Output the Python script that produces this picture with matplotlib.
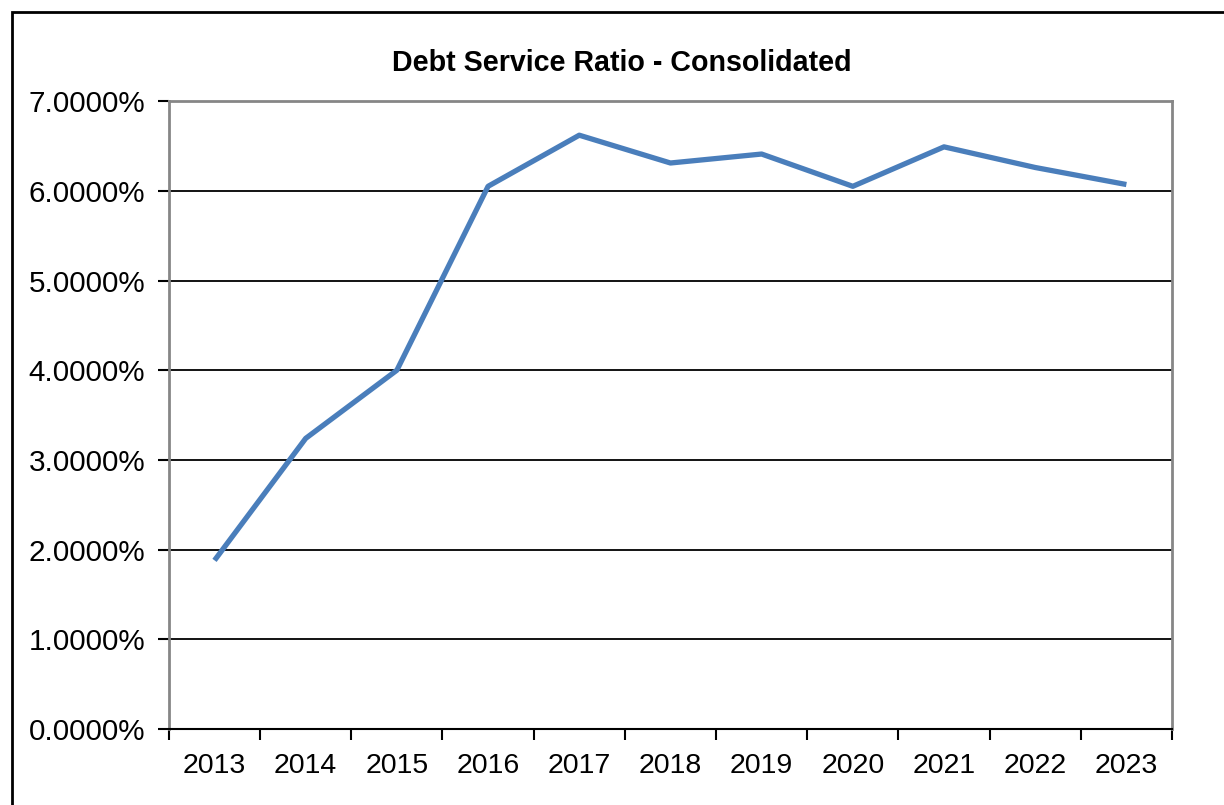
import matplotlib.pyplot as plt
from matplotlib.patches import Rectangle
from matplotlib.ticker import FuncFormatter, MultipleLocator

plt.rcParams["font.family"] = ["Liberation Sans", "DejaVu Sans"]

years = ["2013", "2014", "2015", "2016", "2017", "2018", "2019", "2020", "2021", "2022", "2023"]
ratio = [1.88, 3.24, 4.00, 6.05, 6.62, 6.31, 6.41, 6.05, 6.49, 6.26, 6.07]

fig = plt.figure(figsize=(12.24, 8.05), dpi=100)
ax = fig.add_axes([0.138, 0.0944, 0.8195, 0.78])

# outer chart border (only top and left visible in the crop)
fig.patches.append(Rectangle((12 / 1224, -0.1), 1.2, (805 - 12) / 805 + 0.1,
                             transform=fig.transFigure, fill=False,
                             edgecolor="black", linewidth=2))

x = list(range(len(years)))
ax.plot(x, ratio, color="#4A7EBB", linewidth=3.8, solid_capstyle="butt", zorder=3)

ax.set_xlim(-0.5, len(years) - 0.5)
ax.set_ylim(0, 7)
ax.yaxis.set_major_locator(MultipleLocator(1))
ax.yaxis.set_major_formatter(FuncFormatter(lambda v, p: f"{v:.4f}%"))
ax.set_xticks(x)
ax.set_xticklabels(years)
ax.set_xticks([i - 0.5 for i in range(len(years) + 1)], minor=True)

ax.grid(axis="y", color="black", linewidth=1.3)
ax.set_axisbelow(True)

for s in ["left", "top", "right"]:
    ax.spines[s].set_color("#868686")
    ax.spines[s].set_linewidth(2)
ax.spines["bottom"].set_color("black")
ax.spines["bottom"].set_linewidth(1.5)

ax.tick_params(axis="x", which="major", length=0, pad=17, labelsize=20.5)
ax.tick_params(axis="x", which="minor", length=8, width=1.5, color="black")
ax.tick_params(axis="y", length=8, width=1.5, color="black", pad=9, labelsize=21.3)

fig.text(622 / 1224, 1 - 63 / 805, "Debt Service Ratio - Consolidated",
         fontsize=20.6, fontweight="bold", ha="center", va="center")

fig.savefig("out.png", dpi=100)
